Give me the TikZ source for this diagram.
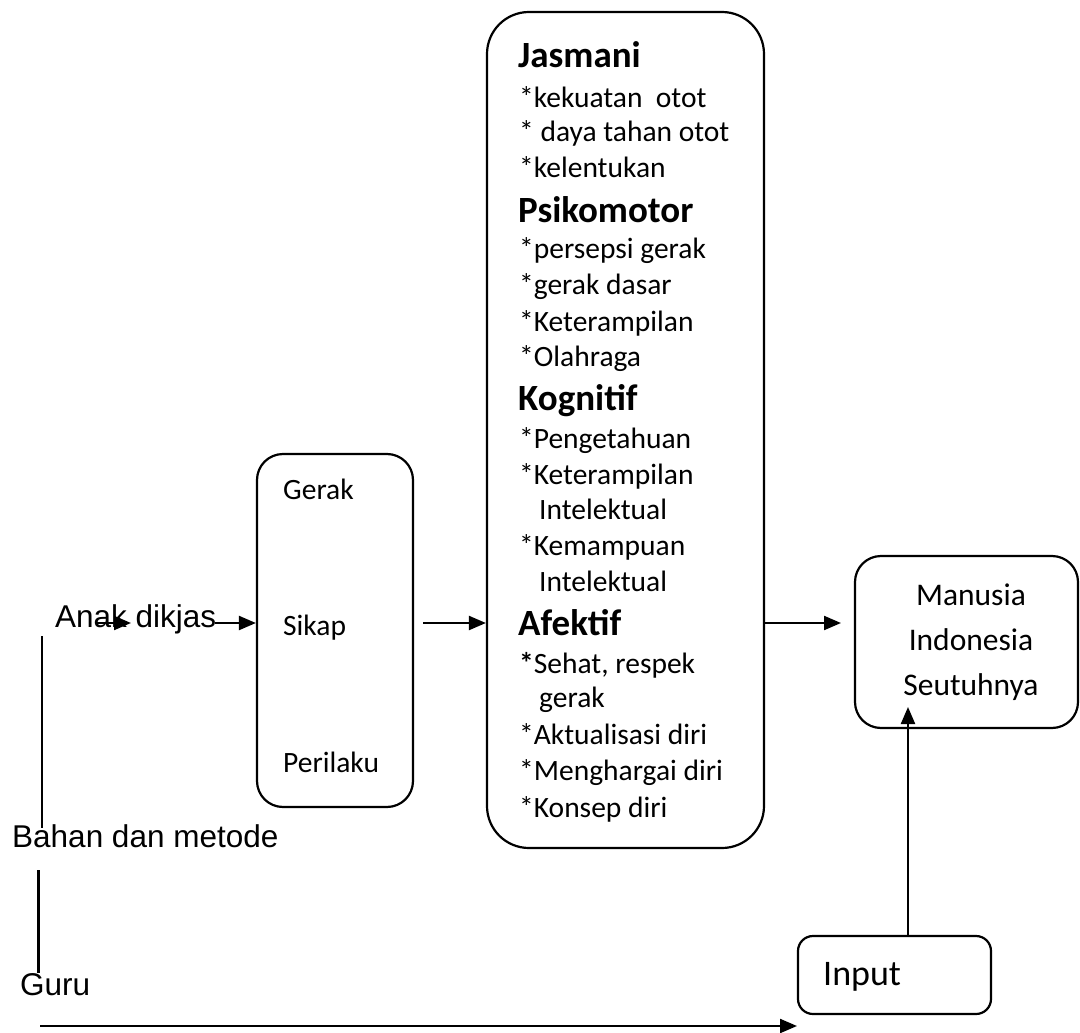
\documentclass[tikz,border=0pt]{standalone}
\usepackage{fontspec}
\setmainfont{Carlito}
\newfontfamily\arialfam{Liberation Sans}
\usetikzlibrary{arrows.meta}
\newcommand\regf{\fontsize{29.5pt}{35pt}\selectfont}
\newcommand\headf{\bfseries\fontsize{37pt}{44pt}\selectfont}
\newcommand\sidef{\arialfam\fontsize{31.5pt}{37pt}\selectfont}
\newcommand\manf{\fontsize{31.5pt}{37pt}\selectfont}
\newcommand\inpf{\fontsize{36pt}{42pt}\selectfont}
\tikzset{
  box/.style={draw, line width=2.2pt, inner sep=0pt, rectangle},
  lbl/.style={anchor=base west, inner sep=0pt, font=\regf},
  head/.style={anchor=base west, inner sep=0pt, font=\headf},
  side/.style={anchor=base west, inner sep=0pt, font=\sidef},
  mtxt/.style={anchor=base, inner sep=0pt, font=\manf},
  arr/.style={line width=2.2pt, -{Triangle[length=17pt,width=14pt]}},
  ln/.style={line width=2.2pt}
}
\begin{document}
\begin{tikzpicture}[x=1pt,y=-1pt]
\useasboundingbox[fill=white] (0,0) rectangle (1080,1033);

% boxes
\node[box, rounded corners=42pt, minimum width=277pt, minimum height=836pt] (mainbox) at (625.5,430) {};
\node[box, rounded corners=26pt, minimum width=156pt, minimum height=353pt] (midbox) at (335,630.5) {};
\node[box, rounded corners=26pt, minimum width=223pt, minimum height=172pt] (manbox) at (966.5,642) {};
\node[box, rounded corners=15pt, minimum width=193pt, minimum height=78pt] (inbox) at (894.5,975) {};

% main box text
\node[head] (t1) at (518,68) {Jasmani};
\node[lbl] (t2) at (519,107) {*kekuatan\ \ otot};
\node[lbl] (t3) at (519,142) {* daya tahan otot};
\node[lbl] (t4) at (519,177) {*kelentukan};
\node[head] (t5) at (518,222) {Psikomotor};
\node[lbl] (t6) at (519,258) {*persepsi gerak};
\node[lbl] (t7) at (519,294) {*gerak dasar};
\node[lbl] (t8) at (519,331) {*Keterampilan};
\node[lbl] (t9) at (519,366) {*Olahraga};
\node[head] (t10) at (518,410) {Kognitif};
\node[lbl] (t11) at (519,448) {*Pengetahuan};
\node[lbl] (t12) at (519,484) {*Keterampilan};
\node[lbl] (t13) at (539,519) {Intelektual};
\node[lbl] (t14) at (519,555) {*Kemampuan};
\node[lbl] (t15) at (539,591) {Intelektual};
\node[head] (t16) at (518,635) {Afektif};
\node[lbl] (t17) at (519,673) {{\bfseries *}Sehat, respek};
\node[lbl] (t18) at (539,707) {gerak};
\node[lbl] (t19) at (519,744) {*Aktualisasi diri};
\node[lbl] (t20) at (519,780) {*Menghargai diri};
\node[lbl] (t21) at (519,817) {*Konsep diri};

% middle box text
\node[lbl] (g1) at (283,499) {Gerak};
\node[lbl] (g2) at (283,635) {Sikap};
\node[lbl] (g3) at (283,772) {Perilaku};

% result box text
\node[mtxt] (m1) at (971,605) {Manusia};
\node[mtxt] (m2) at (971,650) {Indonesia};
\node[mtxt] (m3) at (971,695) {Seutuhnya};

\node[anchor=base west, inner sep=0pt, font=\inpf] (inp) at (823,985) {Input};

% left labels
\node[side] (anak) at (55,627) {Anak dikjas};
\node[side] (bahan) at (12,847) {Bahan dan metode};
\node[side] (guru) at (20,995) {Guru};

% coordinates
\coordinate (a1s) at (97,623);
\coordinate (a1e) at (131,623);
\coordinate (a2s) at (215,623);
\coordinate (a3s) at (423,623);
\coordinate (a4e) at (841,623);
\coordinate (v1t) at (42,636);
\coordinate (v1b) at (42,828);
\coordinate (v2t) at (38.5,870);
\coordinate (v2b) at (38.5,973);
\coordinate (bs) at (40,1026);
\coordinate (be) at (797,1026);
\coordinate (tipM) at (908,707);

% connectors
\draw[arr] (a1s) -- (a1e);
\draw[arr] (a2s) -- (a2s -| midbox.west);
\draw[arr] (a3s) -- (a3s -| mainbox.west);
\draw[arr] (a4e -| mainbox.east) -- (a4e);
\draw[arr] (tipM |- inbox.north) -- (tipM);
\draw[ln] (v1t) -- (v1b);
\draw[ln] (v2t) -- (v2b);
\draw[arr] (bs) -- (be);
\end{tikzpicture}
\end{document}
